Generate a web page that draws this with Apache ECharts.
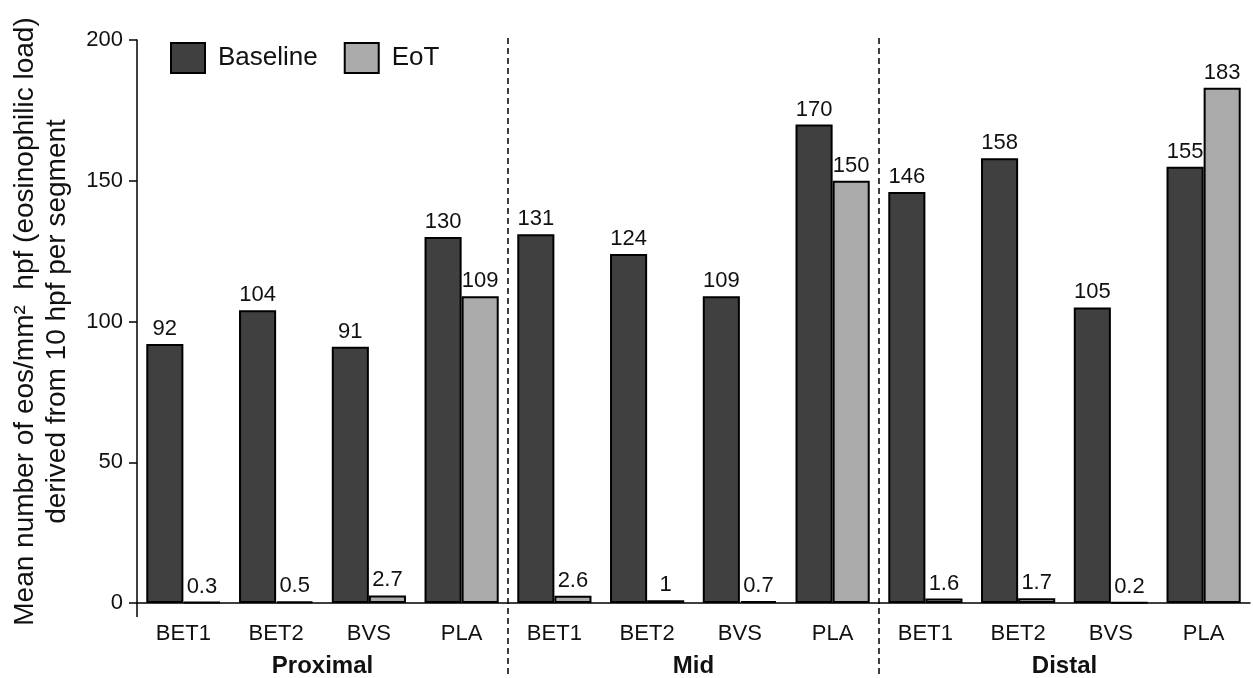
<!DOCTYPE html>
<html><head><meta charset="utf-8">
<script src="https://cdn.jsdelivr.net/npm/echarts@6/dist/echarts.min.js"></script>
<style>html,body{margin:0;padding:0;background:#fff}#c{width:1253px;height:678px}</style>
</head><body><div id="c"></div>
<script>
const categories = ['BET1','BET2','BVS','PLA','BET1','BET2','BVS','PLA','BET1','BET2','BVS','PLA'];
const groups = ['Proximal','Mid','Distal'];
const baseline = [92,104,91,130,131,124,109,170,146,158,105,155];
const eot = [0.3,0.5,2.7,109,2.6,1,0.7,150,1.6,1.7,0.2,183];
const yTicks = [0,50,100,150,200];

const font = 'Liberation Sans, Arial, sans-serif';
const chart = echarts.init(document.getElementById('c'));
const option = {
  animation: false,
  grid: {left: 137, right: 3, top: 40, bottom: 75, containLabel: false, outerBoundsMode: 'none'},
  legend: {
    left: 165, top: 37, itemWidth: 34, itemHeight: 30, itemGap: 26, icon: 'rect',
    textStyle: {fontFamily: font, fontSize: 26, color: '#111', padding: [0, 0, 0, 8]},
    data: ['Baseline','EoT']
  },
  xAxis: [{
    type: 'category', data: categories, position: 'bottom',
    axisLine: {lineStyle: {color: '#000', width: 1.5}},
    axisTick: {show: false},
    axisLabel: {fontFamily: font, fontSize: 22, color: '#111', margin: 20, interval: 0}
  }, {
    type: 'category', data: groups, position: 'bottom', offset: 51,
    axisLine: {show: false}, axisTick: {show: false},
    axisLabel: {fontFamily: font, fontSize: 24, fontWeight: 'bold', color: '#111', margin: 0}
  }],
  yAxis: {
    type: 'value', min: 0, max: 200, interval: 50,
    name: 'Mean number of eos/mm\u00B2  hpf (eosinophilic load)\nderived from 10 hpf per segment',
    nameLocation: 'middle', nameGap: 64, nameRotate: 90,
    nameTextStyle: {fontFamily: font, fontSize: 28, color: '#111', lineHeight: 32},
    axisLine: {show: true, lineStyle: {color: '#000', width: 1.5}},
    axisTick: {show: true, length: 8, lineStyle: {color: '#000', width: 1.5}},
    axisLabel: {fontFamily: font, fontSize: 22, color: '#111', margin: 14,
      formatter: v => yTicks.includes(v) ? String(v) : ''},
    splitLine: {show: false}
  },
  series: [{
    name: 'Baseline', type: 'bar', data: baseline, barGap: '0%', barCategoryGap: '20%',
    itemStyle: {color: '#404040', borderColor: '#000', borderWidth: 2},
    label: {show: true, position: 'top', distance: 4, fontFamily: font, fontSize: 22, color: '#111'}
  }, {
    name: 'EoT', type: 'bar', data: eot,
    itemStyle: {color: '#aaaaaa', borderColor: '#000', borderWidth: 2},
    label: {show: true, position: 'top', distance: 4, fontFamily: font, fontSize: 22, color: '#111'}
  }]
};
chart.setOption(option);

// dashed separators between groups, at category boundaries
const lines = [];
[4, 8].forEach(i => {
  const a = chart.convertToPixel({xAxisIndex: 0}, i - 1);
  const b = chart.convertToPixel({xAxisIndex: 0}, i);
  const x = (a + b) / 2;
  const yTop = chart.convertToPixel({yAxisIndex: 0}, 200) - 2;
  lines.push({type: 'line', shape: {x1: x, y1: yTop, x2: x, y2: 678},
    style: {stroke: '#000', lineWidth: 1.5, lineDash: [6, 4]}, z: 10});
});
const y0 = chart.convertToPixel({yAxisIndex: 0}, 0);
const xAx = chart.convertToPixel({xAxisIndex: 0}, 0) - (chart.convertToPixel({xAxisIndex: 0}, 1) - chart.convertToPixel({xAxisIndex: 0}, 0)) / 2;
lines.push({type: 'line', shape: {x1: xAx, y1: y0, x2: xAx, y2: y0 + 14}, style: {stroke: '#000', lineWidth: 1.5}, z: 10});
chart.setOption({graphic: lines});
</script></body></html>
